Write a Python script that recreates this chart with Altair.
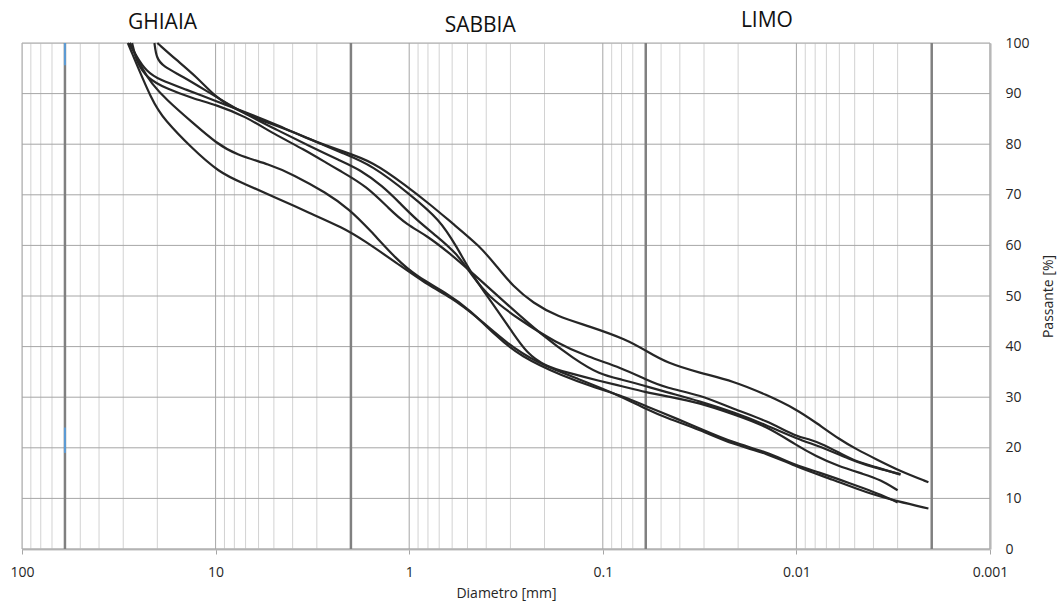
import altair as alt
import pandas as pd

# ---- data (diameter mm, passing %) ----
curve_a_d = [27.8, 25.7, 22.8, 19.5, 14.2, 9.92, 7.22, 4.86, 3.27, 2.29, 1.54, 1.03, 0.78, 0.6, 0.43, 0.354, 0.291, 0.229, 0.173, 0.117, 0.0754, 0.0594, 0.0469, 0.0315, 0.0212, 0.0143, 0.00998, 0.00787, 0.00596, 0.00489, 0.00385, 0.00292, 0.00208]
curve_a_p = [100, 97.4, 94.4, 92.7, 90.8, 88.5, 86.5, 83.9, 80.9, 78.8, 76.6, 71.7, 68.1, 64.4, 59.8, 55.9, 51.9, 48.6, 46.0, 44.0, 41.4, 39.1, 36.8, 34.8, 33.2, 30.5, 27.6, 24.9, 21.6, 19.7, 17.7, 15.4, 13.2]

curve_b_d = [20.0, 16.0, 12.6, 9.9, 7.8, 5.93, 3.99, 2.68, 2.29, 1.54, 0.985, 0.695, 0.57, 0.468, 0.384, 0.291, 0.248, 0.198, 0.15, 0.104, 0.08, 0.06, 0.047, 0.0315, 0.021, 0.0143, 0.01, 0.0079, 0.0062, 0.0044, 0.0037, 0.003]
curve_b_p = [100, 96.7, 93.4, 89.1, 86.8, 84.8, 82.5, 79.6, 78.5, 75.8, 70.0, 65.1, 59.8, 53.9, 49.3, 42.7, 38.8, 36.1, 34.8, 33.2, 32.2, 31.0, 30.2, 28.9, 26.6, 24.3, 20.5, 18.3, 16.5, 14.7, 13.7, 11.6]

curve_c_d = [20.7, 20.2, 18.7, 14.8, 10.7, 7.22, 4.86, 3.27, 2.29, 1.8, 1.37, 1.12, 0.92, 0.72, 0.57, 0.47, 0.39, 0.27, 0.173, 0.12, 0.08, 0.06, 0.047, 0.0315, 0.021, 0.0143, 0.01, 0.0085, 0.0072, 0.0058, 0.0049, 0.0039, 0.0029]
curve_c_p = [100, 97.0, 95.4, 93.4, 90.1, 86.2, 82.9, 79.6, 76.8, 75.0, 71.7, 68.4, 65.1, 61.8, 58.5, 53.9, 49.9, 45.3, 40.7, 38.0, 35.8, 33.5, 31.8, 30.5, 27.6, 25.4, 22.2, 21.7, 20.6, 18.7, 17.3, 16.2, 14.7]

curve_d_d = [27.0, 25.5, 22.5, 18.0, 13.0, 10.0, 7.0, 5.0, 3.5, 2.6, 2.29, 1.66, 1.26, 1.03, 0.815, 0.62, 0.47, 0.315, 0.21, 0.14, 0.104, 0.08, 0.06, 0.047, 0.0315, 0.021, 0.0143, 0.01, 0.0072, 0.0053, 0.0043, 0.0036, 0.0029]
curve_d_p = [100, 96.0, 93.0, 91.0, 89.0, 87.8, 85.5, 82.0, 79.0, 76.0, 74.8, 71.7, 67.1, 64.1, 62.0, 58.5, 54.5, 48.5, 42.5, 37.5, 34.5, 33.5, 32.2, 31.0, 29.2, 27.0, 24.5, 21.8, 20.0, 17.7, 16.5, 15.7, 14.8]

curve_e_d = [27.8, 23.8, 21.5, 18.0, 13.1, 9.92, 7.82, 5.26, 3.98, 2.68, 2.03, 1.6, 1.16, 0.918, 0.643, 0.487, 0.354, 0.268, 0.16, 0.108, 0.079, 0.0594, 0.04, 0.0315, 0.0212, 0.0143, 0.01, 0.00757, 0.00596, 0.00434, 0.00371, 0.003]
curve_e_p = [100, 94.7, 92.1, 88.8, 84.2, 80.2, 77.9, 76.0, 74.0, 70.4, 67.1, 63.1, 57.2, 53.9, 50.6, 47.3, 42.0, 38.1, 34.1, 31.8, 30.2, 28.2, 25.5, 23.8, 21.0, 19.2, 16.5, 15.1, 13.7, 11.8, 10.8, 9.2]

curve_f_d = [28.4, 21.1, 18.3, 13.6, 9.54, 7.22, 4.86, 3.27, 2.2, 1.73, 1.16, 0.783, 0.618, 0.45, 0.315, 0.22, 0.1315, 0.0885, 0.0594, 0.0469, 0.0315, 0.0212, 0.0143, 0.00998, 0.00646, 0.00434, 0.003, 0.00208]
curve_f_p = [100, 88.1, 84.8, 79.6, 74.3, 72.3, 69.4, 66.4, 63.5, 61.1, 56.5, 51.9, 49.9, 46.0, 40.7, 36.8, 33.5, 30.9, 27.6, 25.9, 23.6, 20.6, 19.0, 16.2, 13.7, 11.1, 9.4, 8.0]

# axis / grid values
decades = [100, 10, 1, 0.1, 0.01, 0.001]
minor_ticks = [m * 10.0 ** e for e in range(-3, 2) for m in range(2, 10)]
y_ticks = [0, 10, 20, 30, 40, 50, 60, 70, 80, 90, 100]
class_limits = [60, 2, 0.06, 0.002]          # gravel / sand / silt / clay boundaries
blue_seg_lo = [95.6, 19.0]
blue_seg_hi = [100, 24.0]
zone_names = ["GHIAIA", "SABBIA", "LIMO"]
zone_x = [18.8, 0.43, 0.0142]
zone_y = [102.8, 102.1, 103.2]

# ---- build tables ----
rows = []
for name, ds, ps in [("A", curve_a_d, curve_a_p), ("B", curve_b_d, curve_b_p),
                     ("C", curve_c_d, curve_c_p), ("D", curve_d_d, curve_d_p),
                     ("E", curve_e_d, curve_e_p), ("F", curve_f_d, curve_f_p)]:
    for i, (d, p) in enumerate(zip(ds, ps)):
        rows.append({"curve": name, "idx": i, "d": d, "p": p})
curves = pd.DataFrame(rows)

W, H = 968, 506
FONT = "Open Sans"
TXT = "#262626"
xscale = alt.Scale(type="log", domain=[0.001, 100], reverse=True)
yscale = alt.Scale(domain=[0, 100])

x_axis = alt.Axis(values=decades, format="~g", title="Diametro [mm]",
                  grid=False, domainColor="#c0c0c0", domainWidth=2,
                  tickColor="#a6a6a6", tickSize=5, labelPadding=11,
                  labelFontSize=14, labelColor=TXT, labelFont=FONT,
                  labelFlush=False, titleFont=FONT, titleFontSize=14,
                  titleFontWeight="normal", titleColor=TXT, titlePadding=7)
y_axis = alt.Axis(orient="right", values=y_ticks, title="Passante [%]",
                  grid=False, domainColor="#c8c8c8", domainWidth=2.5,
                  ticks=False, labelPadding=15, labelFontSize=14,
                  labelColor=TXT, labelFont=FONT, titleFont=FONT,
                  titleFontSize=14, titleFontWeight="normal",
                  titleColor=TXT, titleAngle=270, titlePadding=26)

minor_df = pd.DataFrame({"d": minor_ticks, "p": 0, "p2": 100})
major_df = pd.DataFrame({"d": decades, "p": 0, "p2": 100})
hgrid_df = pd.DataFrame({"p": y_ticks, "d": 0.001, "d2": 100})
limit_df = pd.DataFrame({"d": class_limits, "p": 0, "p2": 100})
blue_df = pd.DataFrame({"d": [60, 60], "p": blue_seg_lo, "p2": blue_seg_hi})
zone_df = pd.DataFrame({"t": zone_names, "d": zone_x, "p": zone_y})

X = alt.X("d:Q", scale=xscale, axis=x_axis)
Y = alt.Y("p:Q", scale=yscale, axis=y_axis)

def vrules(df, color, width):
    return alt.Chart(df).mark_rule(color=color, strokeWidth=width).encode(
        x=X, y=Y, y2="p2:Q")

minor = vrules(minor_df, "#d2d2d2", 1)
major = vrules(major_df, "#a6a6a6", 1)
hgrid = alt.Chart(hgrid_df).mark_rule(color="#a6a6a6", strokeWidth=1).encode(
    x=X, x2="d2:Q", y=Y)
limits = vrules(limit_df, "#808080", 2.5)
blue = vrules(blue_df, "#5b9bd5", 2)

lines = alt.Chart(curves).mark_line(
    color="#262626", strokeWidth=2.2, interpolate="basis"
).encode(x=X, y=Y, detail="curve:N", order="idx:Q")

zones = alt.Chart(zone_df).mark_text(
    font=FONT, fontSize=21, color="#111111", baseline="alphabetic", align="center"
).encode(x=X, y=Y, text="t:N")

chart = alt.layer(minor, major, hgrid, limits, blue, lines, zones).properties(
    width=W, height=H,
    autosize=alt.AutoSizeParams(type="none"),
    padding={"left": 22, "top": 43, "right": 69, "bottom": 57},
).configure_view(stroke=None).configure(background="white")

chart.save("out.html", embed_options={"renderer": "svg", "actions": False})
